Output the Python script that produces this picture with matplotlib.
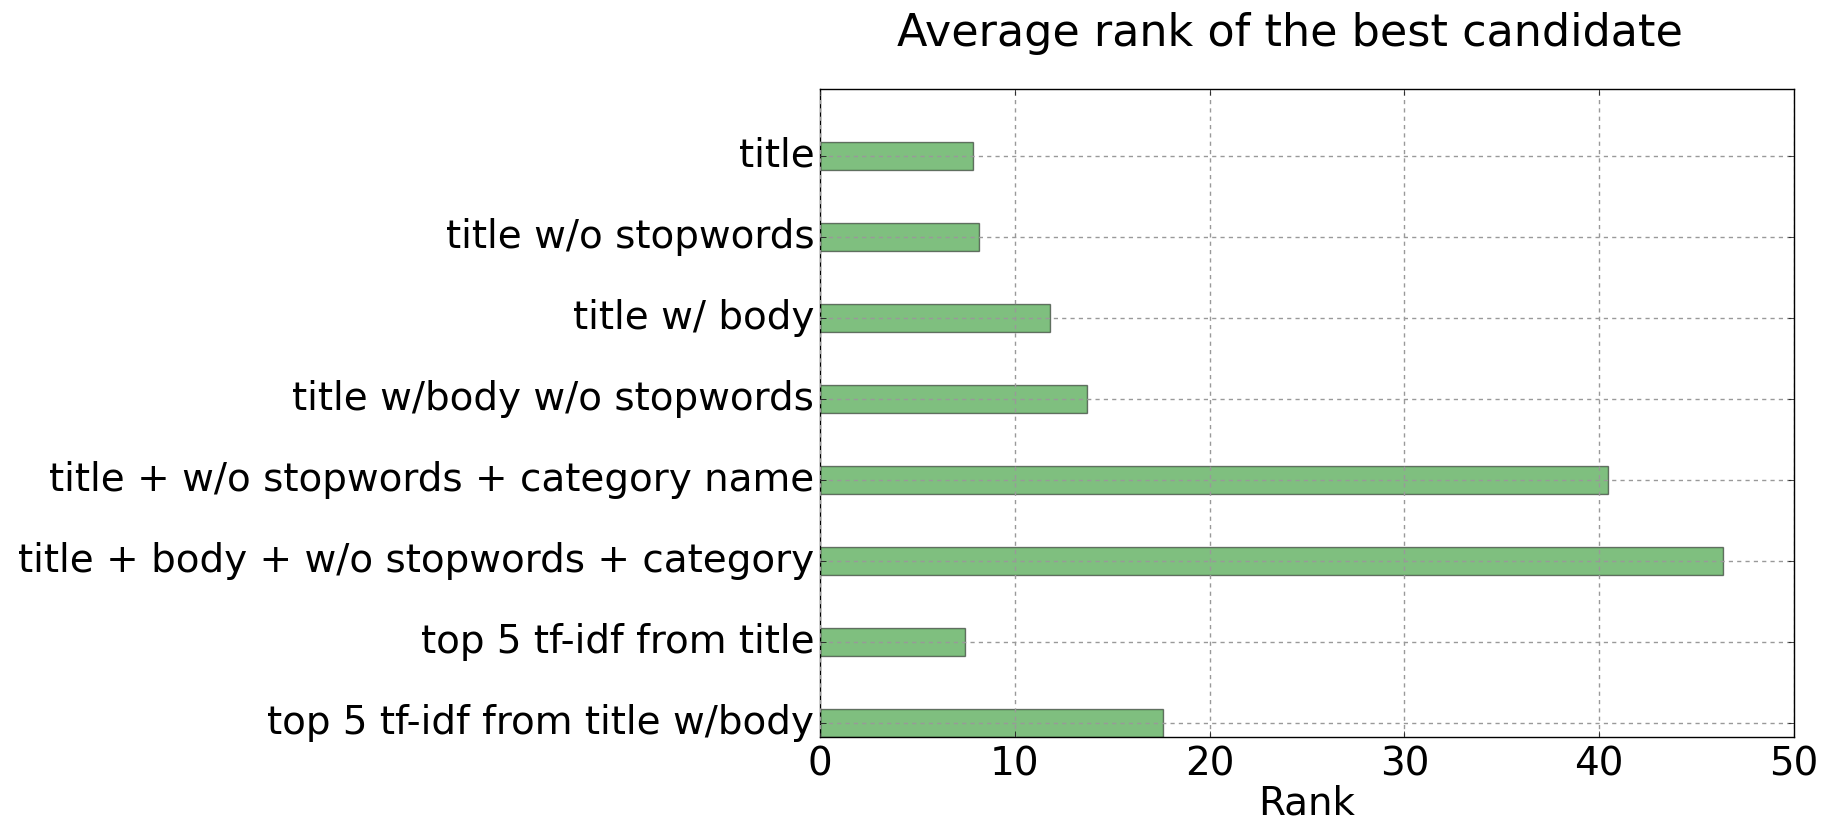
import numpy as np
import matplotlib
matplotlib.use('Agg')
import matplotlib.pyplot as plt

plt.style.use('classic')

# top to bottom as they appear
labels = ['title',
          'title w/o stopwords',
          'title w/ body',
          'title w/body w/o stopwords',
          'title + w/o stopwords + category name',
          'title + body + w/o stopwords + category',
          'top 5 tf-idf from title',
          'top 5 tf-idf from title w/body']
ranks = [7.86, 8.15, 11.83, 13.71, 40.47, 46.35, 7.47, 17.59]

labels = labels[::-1]
ranks = ranks[::-1]
pos = np.arange(len(ranks))
h = 0.35

fig = plt.figure(figsize=(18.31, 8.26), dpi=100, facecolor='white')
ax = fig.add_axes([0.4478, 0.1077, 0.5320, 0.7846])
ax.barh(pos, ranks, height=h, align='edge', color='g', alpha=0.5, edgecolor='k')
ax.set_yticks(pos + h / 2)
ax.set_yticklabels(labels, fontsize=28)
ax.set_ylim(0, len(ranks))
ax.set_xlim(0, 50)
ax.tick_params(axis='x', labelsize=28, pad=6)
ax.set_xlabel('Rank', fontsize=28, labelpad=1)
ax.set_title('Average rank of the best candidate', fontsize=32, x=0.483, y=1.055)
ax.grid(True, linestyle=(0, (3, 3)), color='#999999', linewidth=1)
ax.set_axisbelow(False)

fig.savefig('out.png', dpi=100, facecolor='white')
